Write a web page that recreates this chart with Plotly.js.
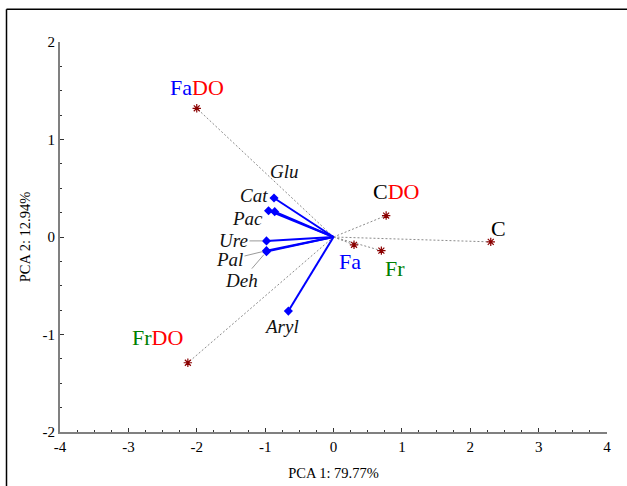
<!DOCTYPE html>
<html>
<head>
<meta charset="utf-8">
<script src="https://cdn.plot.ly/plotly-3.0.1.min.js"></script>
<style>html,body{margin:0;padding:0;background:#fff;}#chart{width:627px;height:486px;}</style>
</head>
<body>
<div id="chart"></div>
<script>
// ---- Data ----
// Case scores (PCA 1, PCA 2)
const scoreNames = ['FaDO', 'CDO', 'C', 'Fa', 'Fr', 'FrDO'];
const scoreX = [-2.00, 0.77, 2.30, 0.30, 0.70, -2.13];
const scoreY = [1.32, 0.22, -0.05, -0.08, -0.14, -1.29];
// Variable loadings (PCA 1, PCA 2)
const loadNames = ['Glu', 'Cat', 'Pac', 'Ure', 'Pal', 'Deh', 'Aryl'];
const loadX = [-0.86, -0.87, -0.95, -0.98, -0.98, -0.98, -0.66];
const loadY = [0.26, 0.40, 0.27, -0.04, -0.14, -0.15, -0.76];
// Axis ticks
const xTicks = [-4, -3, -2, -1, 0, 1, 2, 3, 4];
const yTicks = [-2, -1, 0, 1, 2];

// ---- Styles / label placement ----
const BLUE = '#0000ff', RED = '#ff0000', GREEN = '#008000', BLACK = '#000000';
const FONT = 'Liberation Serif';
const scoreLabelHTML = {
  FaDO: `<span style="color:${BLUE}">Fa</span><span style="color:${RED}">DO</span>`,
  CDO: `<span style="color:${BLACK}">C</span><span style="color:${RED}">DO</span>`,
  C: `<span style="color:${BLACK}">C</span>`,
  Fa: `<span style="color:${BLUE}">Fa</span>`,
  Fr: `<span style="color:${GREEN}">Fr</span>`,
  FrDO: `<span style="color:${GREEN}">Fr</span><span style="color:${RED}">DO</span>`
};
const scoreShift = { FaDO: [0, 21], CDO: [10, 24], C: [8, 13], Fa: [-4, -17], Fr: [14, -18], FrDO: [-30, 25] };
const loadShift = { Glu: [10, 40], Cat: [-20, 3], Pac: [-21, -8], Aryl: [-7, -15] };
const loadArrow = { Ure: [-33, 0], Pal: [-37, 9], Deh: [-25, 29] };

const traces = [];
// dashed lines from origin to each score
scoreNames.forEach((n, i) => {
  traces.push({
    x: [0, scoreX[i]], y: [0, scoreY[i]], mode: 'lines', type: 'scatter',
    line: { color: '#8c8c8c', width: 1, dash: '2px,2px' }, hoverinfo: 'skip', showlegend: false
  });
});
// blue loading vectors
loadNames.forEach((n, i) => {
  traces.push({
    x: [0, loadX[i]], y: [0, loadY[i]], mode: 'lines', type: 'scatter',
    line: { color: BLUE, width: 2 }, hoverinfo: 'skip', showlegend: false
  });
});
traces.push({
  x: loadX, y: loadY, text: loadNames, mode: 'markers', type: 'scatter',
  marker: { symbol: 'diamond', size: 7, color: BLUE }, showlegend: false
});
traces.push({
  x: scoreX, y: scoreY, text: scoreNames, mode: 'markers', type: 'scatter',
  marker: { symbol: 'asterisk-open', size: 7, color: '#8b0000', line: { color: '#8b0000', width: 1.2 } },
  showlegend: false
});

const annotations = [];
scoreNames.forEach((n, i) => {
  const s = scoreShift[n];
  annotations.push({
    x: scoreX[i], y: scoreY[i], xref: 'x', yref: 'y', text: scoreLabelHTML[n], showarrow: false,
    xshift: s[0], yshift: s[1], font: { family: FONT, size: 22 }
  });
});
loadNames.forEach((n, i) => {
  const lab = `<i>${n}</i>`;
  if (loadArrow[n]) {
    const a = loadArrow[n];
    annotations.push({
      x: loadX[i], y: loadY[i], xref: 'x', yref: 'y', text: lab, showarrow: true,
      ax: a[0], ay: a[1], arrowhead: 0, arrowwidth: 1, arrowcolor: '#9a9a9a', standoff: 4,
      font: { family: FONT, size: 19, color: '#111' }
    });
  } else {
    const s = loadShift[n];
    annotations.push({
      x: loadX[i], y: loadY[i], xref: 'x', yref: 'y', text: lab, showarrow: false,
      xshift: s[0], yshift: s[1], font: { family: FONT, size: 19, color: '#111' }
    });
  }
});

const axisCommon = {
  showgrid: false, zeroline: false, showline: true, linecolor: '#808080', linewidth: 2,
  ticks: 'inside', ticklen: 4, tickwidth: 1, tickcolor: '#333', mirror: false,
  tickfont: { family: FONT, size: 15, color: '#000' },
  minor: { dtick: 0.25, ticks: 'inside', ticklen: 2, tickwidth: 1, tickcolor: '#333' }
};

const layout = {
  width: 627, height: 486,
  margin: { l: 60, r: 20, t: 42, b: 54 },
  paper_bgcolor: '#fff', plot_bgcolor: '#fff',
  font: { family: FONT, color: '#000' },
  xaxis: Object.assign({}, axisCommon, {
    range: [-4, 4], tickmode: 'array', tickvals: xTicks, ticktext: xTicks.map(String),
    title: { text: 'PCA 1: 79.77%', font: { family: FONT, size: 14.5 }, standoff: 14 }
  }),
  yaxis: Object.assign({}, axisCommon, {
    range: [-2, 2], tickmode: 'array', tickvals: yTicks, ticktext: yTicks.map(String),
    title: { text: 'PCA 2: 12.94%', font: { family: FONT, size: 14.5 }, standoff: 8 }
  }),
  annotations: annotations,
  shapes: [
    { type: 'line', xref: 'paper', yref: 'paper', x0: -0.0978, x1: -0.0978, y0: -0.2, y1: 1.0838, line: { color: '#000', width: 1.5 } },
    { type: 'line', xref: 'paper', yref: 'paper', x0: -0.0978, x1: 1.1, y0: 1.0838, y1: 1.0838, line: { color: '#000', width: 1.5 } }
  ]
};

Plotly.newPlot('chart', traces, layout, { displayModeBar: false, staticPlot: true });
</script>
</body>
</html>
